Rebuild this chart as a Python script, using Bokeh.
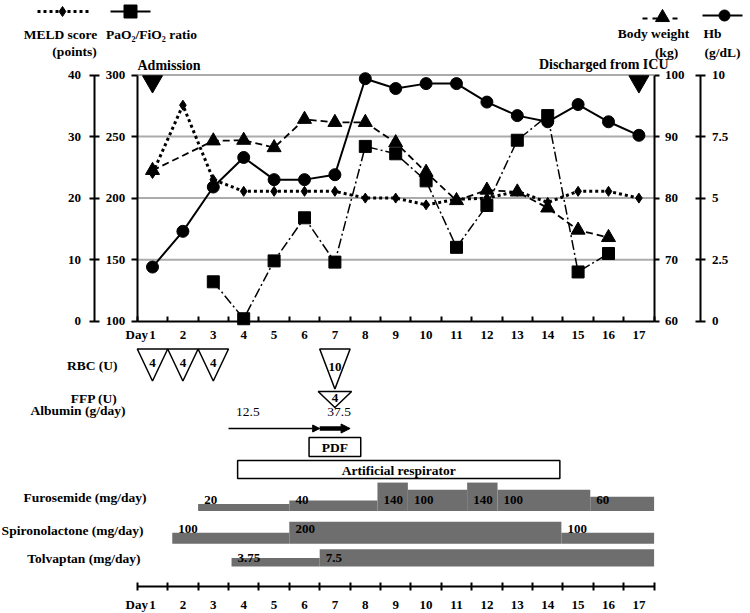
from bokeh.plotting import figure
from bokeh.models import Range1d, LinearAxis, FixedTicker, NumeralTickFormatter, Arrow, NormalHead
from bokeh.core.properties import value
from bokeh.embed import file_html
from bokeh.resources import INLINE

# ---------------- data ----------------
days = list(range(1, 18))
meld_days = list(range(1, 18))
meld_score = [24.0, 35.1, 23.0, 21.1, 21.1, 21.1, 21.1, 20.0, 20.0, 18.9, 19.8, 20.0, 21.1, 19.3, 21.1, 21.1, 20.0]
pao2_days = list(range(3, 17))
pao2_ratio = [132, 102, 149, 184, 148, 242, 236, 214, 160, 194, 247, 267, 140, 155]
bw_days = [1] + list(range(3, 17))
body_weight = [84.5, 89.3, 89.4, 88.2, 92.8, 92.3, 92.3, 89.0, 84.2, 79.6, 81.3, 81.0, 78.4, 74.8, 73.6]
hb_days = list(range(1, 18))
hb = [2.2, 3.65, 5.45, 6.65, 5.75, 5.75, 5.95, 9.85, 9.45, 9.65, 9.65, 8.9, 8.35, 8.1, 8.8, 8.1, 7.55]

event_days = [1, 17]
event_labels = ["Admission", "Discharged from ICU"]

rbc_days = [1, 2, 3, 7]
rbc_units = [4, 4, 4, 10]
ffp_days = [7]
ffp_units = [4]
albumin_start = [3.5, 6.5]
albumin_end = [6.5, 7.5]
albumin_dose = [12.5, 37.5]
pdf_day = 7
respirator_start, respirator_end = 3.8, 14.4

furosemide_start = [2.5, 5.5, 8.4, 9.4, 11.35, 12.35, 15.4]
furosemide_end = [5.5, 8.4, 9.4, 11.35, 12.35, 15.4, 17.5]
furosemide_dose = [20, 40, 140, 100, 140, 100, 60]
spiro_start = [1.65, 5.5, 14.45]
spiro_end = [5.5, 14.45, 17.5]
spiro_dose = [100, 200, 100]
tolvaptan_start = [3.6, 6.5]
tolvaptan_end = [6.5, 17.5]
tolvaptan_dose = [3.75, 7.5]

pao2_ticks = [100, 150, 200, 250, 300]
grid_ticks = [150, 200, 250, 300]
meld_ticks = [0, 10, 20, 30, 40]
bw_ticks = [60, 70, 80, 90, 100]
hb_ticks = [0, 2.5, 5, 7.5, 10]

# ---------------- layout ----------------
W, H = 750, 613
OFF = 0
DAY1_PX = 152.0
PX_PER_DAY = 30.4


def dx(page_x):
    return 1 + (page_x - DAY1_PX) / PX_PER_DAY


Y300, Y100 = 74.5, 320.7
k = (Y100 - Y300) / 200.0
p_top = 300 + (Y300 - OFF) / k
p_bot = 100 - (OFF + H - Y100) / k

FONT = "Liberation Serif"
LABEL_SIZE = "13.5px"
GRAY = "#6e6e6e"

p = figure(width=W, height=H, x_range=Range1d(dx(OFF), dx(OFF + W)),
           y_range=Range1d(p_bot, p_top), x_axis_type=None, y_axis_type=None,
           toolbar_location=None, output_backend="svg", min_border=0,
           outline_line_color=None, background_fill_color="white",
           border_fill_color="white")
p.extra_y_ranges = {
    "meld": Range1d((p_bot - 100) / 5, (p_top - 100) / 5),
    "bw": Range1d(60 + (p_bot - 100) / 5, 60 + (p_top - 100) / 5),
    "hb": Range1d((p_bot - 100) / 20, (p_top - 100) / 20),
    "px": Range1d(OFF + H, OFF),
}


def style_axis(ax, standoff, t_in, t_out, minor_in=0, minor_out=0):
    ax.axis_line_color = "black"
    ax.axis_line_width = 2
    ax.major_tick_line_color = "black"
    ax.major_tick_line_width = 2
    ax.minor_tick_line_color = "black"
    ax.minor_tick_line_width = 2
    ax.major_tick_in = t_in
    ax.major_tick_out = t_out
    ax.minor_tick_in = minor_in
    ax.minor_tick_out = minor_out
    ax.major_label_text_font = FONT
    ax.major_label_text_font_size = "13px"
    ax.major_label_text_font_style = "bold"
    ax.major_label_text_color = "black"
    ax.major_label_standoff = standoff


# gridlines
for g in grid_ticks:
    p.segment(x0=[0.5], x1=[17.5], y0=[g], y1=[g], line_color="#ababab", line_width=2)

# y axes
ax = LinearAxis(fixed_location=0.5, bounds=(100, 300),
                ticker=FixedTicker(ticks=pao2_ticks, minor_ticks=[]))
style_axis(ax, 6, 0, 6)
p.add_layout(ax, "left")

ax = LinearAxis(fixed_location=dx(93.5), bounds=(0, 40), y_range_name="meld",
                ticker=FixedTicker(ticks=meld_ticks, minor_ticks=[]))
style_axis(ax, 8, 5, 5)
p.add_layout(ax, "left")

ax = LinearAxis(fixed_location=17.5, bounds=(60, 100), y_range_name="bw",
                ticker=FixedTicker(ticks=bw_ticks, minor_ticks=[]))
style_axis(ax, 6, 0, 5)
p.add_layout(ax, "right")

ax = LinearAxis(fixed_location=dx(699.5), bounds=(0, 10), y_range_name="hb",
                ticker=FixedTicker(ticks=hb_ticks, minor_ticks=[]),
                formatter=NumeralTickFormatter(format="0.[0]"))
style_axis(ax, 7, 5, 5)
p.add_layout(ax, "right")

# x axes
half_days = [d - 0.5 for d in days] + [days[-1] + 0.5]
ax = LinearAxis(fixed_location=100, bounds=(0.5, 17.5),
                ticker=FixedTicker(ticks=days, minor_ticks=half_days))
style_axis(ax, 10, 0, 0, 5, 0)
p.add_layout(ax, "below")

ax = LinearAxis(fixed_location=586, y_range_name="px", bounds=(0.5, 17.5),
                ticker=FixedTicker(ticks=days, minor_ticks=half_days))
style_axis(ax, 10, 0, 0, 4, 4)
p.add_layout(ax, "below")


def put_text(xs, ys, texts, align="center", size=LABEL_SIZE, style="bold", baseline="middle"):
    p.text(x=xs, y=ys, text=texts, y_range_name="px",
           text_font=value(FONT), text_font_size=value(size),
           text_font_style=value(style), text_align=value(align),
           text_baseline=value(baseline), text_color="black")


put_text([dx(147.5)], [334], ["Day"], align="right", size="13px")
put_text([dx(147.5)], [603.5], ["Day"], align="right", size="13px")

# ---------------- series ----------------
MELD_DASH = "3 3"
PAO2_DASH = "10 3 2 3"
BW_DASH = "7 4"

p.line(meld_days, meld_score, y_range_name="meld", line_color="black", line_width=3, line_dash=MELD_DASH)
p.line(bw_days, body_weight, y_range_name="bw", line_color="black", line_width=1.8, line_dash=BW_DASH)
p.line(pao2_days, pao2_ratio, line_color="black", line_width=1.5, line_dash=PAO2_DASH)
p.line(hb_days, hb, y_range_name="hb", line_color="black", line_width=2)

p.scatter(meld_days, meld_score, y_range_name="meld", marker="diamond", size=10, color="black")
p.scatter(bw_days, body_weight, y_range_name="bw", marker="triangle", size=14, color="black")
p.scatter(pao2_days, pao2_ratio, marker="square", size=12, color="black")
p.scatter(hb_days, hb, y_range_name="hb", marker="circle", size=12, color="black")

# events
p.scatter(event_days, [81, 81], y_range_name="px", marker="inverted_triangle", size=20, color="black")
put_text([dx(137)], [65], [event_labels[0]], align="left", size="14px")
put_text([dx(668)], [64], [event_labels[1]], align="right", size="14px")

# ---------------- legend ----------------
p.line([dx(37), dx(88)], [11, 11], y_range_name="px", line_color="black", line_width=3, line_dash=MELD_DASH)
p.scatter([dx(62)], [11], y_range_name="px", marker="diamond", size=10, color="black")
p.line([dx(110), dx(150)], [11, 11], y_range_name="px", line_color="black", line_width=2)
p.scatter([dx(130)], [11], y_range_name="px", marker="square", size=13, color="black")
p.line([dx(642), dx(682)], [18, 18], y_range_name="px", line_color="black", line_width=2, line_dash="5 5")
p.scatter([dx(662)], [17], y_range_name="px", marker="triangle", size=14, color="black")
p.line([dx(702), dx(742)], [15, 15], y_range_name="px", line_color="black", line_width=2)
p.scatter([dx(724)], [15], y_range_name="px", marker="circle", size=11, color="black")

put_text([dx(60), dx(74), dx(151), dx(653), dx(666), dx(712), dx(722)],
         [34, 51, 34, 33, 52, 33, 52],
         ["MELD score", "(points)", "PaO\u2082/FiO\u2082 ratio", "Body weight", "(kg)", "Hb", "(g/dL)"])

# ---------------- timeline ----------------
put_text([dx(117), dx(117), dx(125), dx(146), dx(143), dx(140)],
         [365, 398, 410, 497, 530, 558],
         ["RBC (U)", "FFP (U)", "Albumin (g/day)", "Furosemide (mg/day)",
          "Spironolactone (mg/day)", "Tolvaptan (mg/day)"], align="right")

RBC_TOP = 348.5


def rbc_depth(u):
    return 26.7 + 1.33 * u


p.patches(xs=[[d - 0.5, d + 0.5, d] for d in rbc_days],
          ys=[[RBC_TOP, RBC_TOP, RBC_TOP + rbc_depth(u)] for u in rbc_units],
          y_range_name="px", fill_color="white", line_color="black", line_width=1.5)
put_text(rbc_days, [RBC_TOP + 0.45 * rbc_depth(u) for u in rbc_units],
         [str(u) for u in rbc_units], size="13px")

FFP_TOP, FFP_DEPTH = 391, 16
p.patches(xs=[[d - 0.55, d + 0.55, d] for d in ffp_days],
          ys=[[FFP_TOP, FFP_TOP, FFP_TOP + FFP_DEPTH] for _ in ffp_units],
          y_range_name="px", fill_color="white", line_color="black", line_width=1.5)
put_text(ffp_days, [FFP_TOP + 0.42 * FFP_DEPTH for _ in ffp_units], [str(u) for u in ffp_units],
         size="13px")

# albumin arrows
ALB_Y = 428
for s, e, w, hs in zip(albumin_start, albumin_end, [1.3, 4.5], [7, 9]):
    p.add_layout(Arrow(end=NormalHead(size=hs, fill_color="black", line_color="black", line_width=1),
                       x_start=s, x_end=e, y_start=ALB_Y, y_end=ALB_Y, y_range_name="px",
                       line_color="black", line_width=w))
put_text([s + 0.25 for s in albumin_start], [411, 411], [f"{d:g}" for d in albumin_dose],
         align="left", style="normal")

# PDF box
p.quad(left=[pdf_day - 0.85], right=[pdf_day + 0.85], top=[437], bottom=[456], y_range_name="px",
       fill_color="white", line_color="black", line_width=1.5)
put_text([pdf_day], [447], ["PDF"])

# respirator box
p.quad(left=[respirator_start], right=[respirator_end], top=[460], bottom=[478], y_range_name="px",
       fill_color="white", line_color="black", line_width=1.5)
put_text([(respirator_start + respirator_end) / 2], [469.5], ["Artificial respirator"])


def drug_row(starts, ends, doses, base, hfun, text_y):
    p.quad(left=starts, right=ends, bottom=[base] * len(doses),
           top=[base - hfun(d) for d in doses], y_range_name="px",
           fill_color=GRAY, line_color=None)
    put_text([s + 0.2 for s in starts], [text_y] * len(doses), [f"{d:g}" for d in doses],
             align="left", size="13px")


drug_row(furosemide_start, furosemide_end, furosemide_dose, 510.5, lambda d: 3.5 + 0.178 * d, 499)
drug_row(spiro_start, spiro_end, spiro_dose, 543.3, lambda d: 0.11 * d, 528.5)
drug_row(tolvaptan_start, tolvaptan_end, tolvaptan_dose, 566, lambda d: 2.3 * d, 557.5)

open("out.html", "w").write(file_html(p, INLINE))
